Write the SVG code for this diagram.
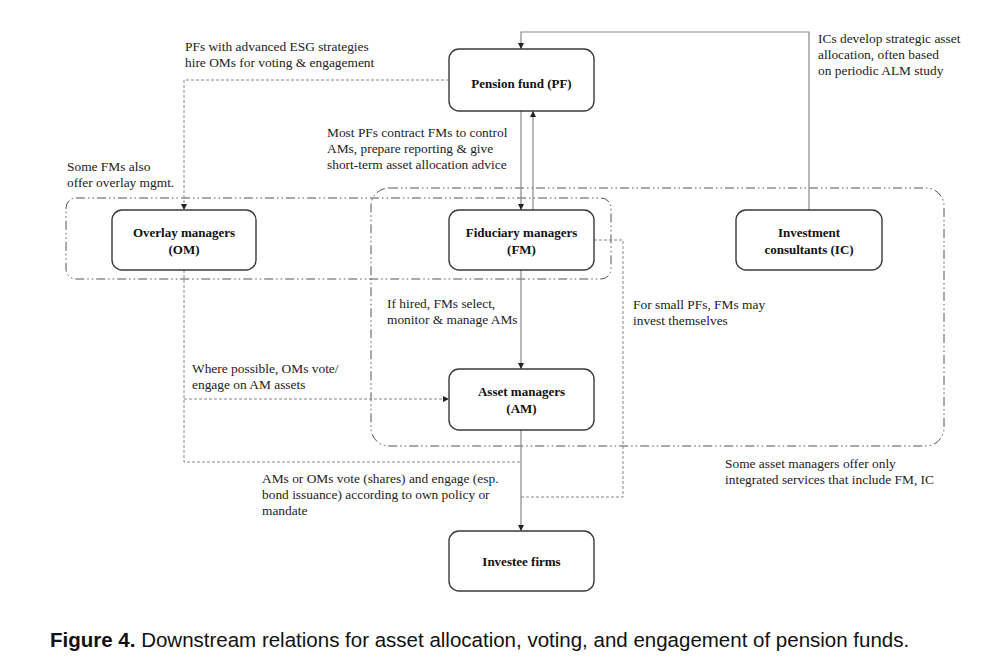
<svg xmlns="http://www.w3.org/2000/svg" width="1000" height="664" viewBox="0 0 1000 664">
<style>
.node{fill:#fff;stroke:#3a3a3a;stroke-width:1.4}
.grp{fill:none;stroke:#555;stroke-width:1;stroke-dasharray:9,3,1.5,3,1.5,3}
.lbl{font-family:"Liberation Serif","Times New Roman",serif;font-size:13.4px;fill:#222}
.nl{font-family:"Liberation Serif","Times New Roman",serif;font-size:13px;font-weight:bold;fill:#111;text-anchor:middle}
.solid{fill:none;stroke:#888;stroke-width:1.2}
.dash{fill:none;stroke:#888;stroke-width:1;stroke-dasharray:3,2}
.cap{font-family:"Liberation Sans",Arial,sans-serif;font-size:20.5px;fill:#111}
</style>
<defs>
<marker id="ah" viewBox="0 0 10 10" refX="10" refY="5" markerWidth="6" markerHeight="6" orient="auto" markerUnits="userSpaceOnUse">
<path d="M0,0 L10,5 L0,10 z" fill="#222"/>
</marker>
</defs>
<rect width="1000" height="664" fill="#fff"/>
<g id="groups">
<rect class="grp" x="371" y="188" width="573" height="258" rx="18"/>
<rect class="grp" x="66" y="198" width="545" height="81" rx="10"/>
</g>
<g id="connectors">
<path class="solid" d="M809,210 V32 H521 V49" marker-end="url(#ah)"/>
<path class="solid" d="M521,111 V210" marker-end="url(#ah)"/>
<path class="solid" d="M533,210 V111" marker-end="url(#ah)"/>
<path class="solid" d="M521,270 V369" marker-end="url(#ah)"/>
<path class="solid" d="M521,430 V531" marker-end="url(#ah)"/>
<path class="dash" d="M449,80 H184 V210" marker-end="url(#ah)"/>
<path class="dash" d="M184,270 V462 H521"/>
<path class="dash" d="M184,399 H449" marker-end="url(#ah)"/>
<path class="dash" d="M594,240 H623 V497 H521"/>
</g>
<g id="pf">
<rect class="node" x="449" y="49" width="145" height="62" rx="10"/>
<text class="nl" x="521.5" y="88">Pension fund (PF)</text>
</g>
<g id="om">
<rect class="node" x="112" y="210" width="144" height="60" rx="10"/>
<text class="nl" x="184" y="237">Overlay managers</text>
<text class="nl" x="184" y="254">(OM)</text>
</g>
<g id="fm">
<rect class="node" x="449" y="210" width="145" height="60" rx="10"/>
<text class="nl" x="521.5" y="237">Fiduciary managers</text>
<text class="nl" x="521.5" y="254">(FM)</text>
</g>
<g id="ic">
<rect class="node" x="736" y="210" width="146" height="60" rx="10"/>
<text class="nl" x="809" y="237">Investment</text>
<text class="nl" x="809" y="254">consultants (IC)</text>
</g>
<g id="am">
<rect class="node" x="449" y="369" width="145" height="61" rx="10"/>
<text class="nl" x="521.5" y="396">Asset managers</text>
<text class="nl" x="521.5" y="413">(AM)</text>
</g>
<g id="inv">
<rect class="node" x="449" y="531" width="145" height="60" rx="10"/>
<text class="nl" x="521.5" y="566">Investee firms</text>
</g>
<g id="labels">
<text class="lbl" x="185" y="51">PFs with advanced ESG strategies</text>
<text class="lbl" x="185" y="67">hire OMs for voting &amp; engagement</text>
<text class="lbl" x="327" y="137">Most PFs contract FMs to control</text>
<text class="lbl" x="327" y="153">AMs, prepare reporting &amp; give</text>
<text class="lbl" x="327" y="169">short-term asset allocation advice</text>
<text class="lbl" x="67" y="171">Some FMs also</text>
<text class="lbl" x="67" y="187">offer overlay mgmt.</text>
<text class="lbl" x="818" y="43">ICs develop strategic asset</text>
<text class="lbl" x="818" y="59">allocation, often based</text>
<text class="lbl" x="818" y="75">on periodic ALM study</text>
<text class="lbl" x="387" y="308">If hired, FMs select,</text>
<text class="lbl" x="387" y="324">monitor &amp; manage AMs</text>
<text class="lbl" x="633" y="309">For small PFs, FMs may</text>
<text class="lbl" x="633" y="325">invest themselves</text>
<text class="lbl" x="192" y="373">Where possible, OMs vote/</text>
<text class="lbl" x="192" y="389">engage on AM assets</text>
<text class="lbl" x="262" y="483">AMs or OMs vote (shares) and engage (esp.</text>
<text class="lbl" x="262" y="499">bond issuance) according to own policy or</text>
<text class="lbl" x="262" y="515">mandate</text>
<text class="lbl" x="725" y="468">Some asset managers offer only</text>
<text class="lbl" x="725" y="484">integrated services that include FM, IC</text>
<text class="cap" x="50" y="647"><tspan font-weight="bold">Figure 4.</tspan> Downstream relations for asset allocation, voting, and engagement of pension funds.</text>
</g>
</svg>
